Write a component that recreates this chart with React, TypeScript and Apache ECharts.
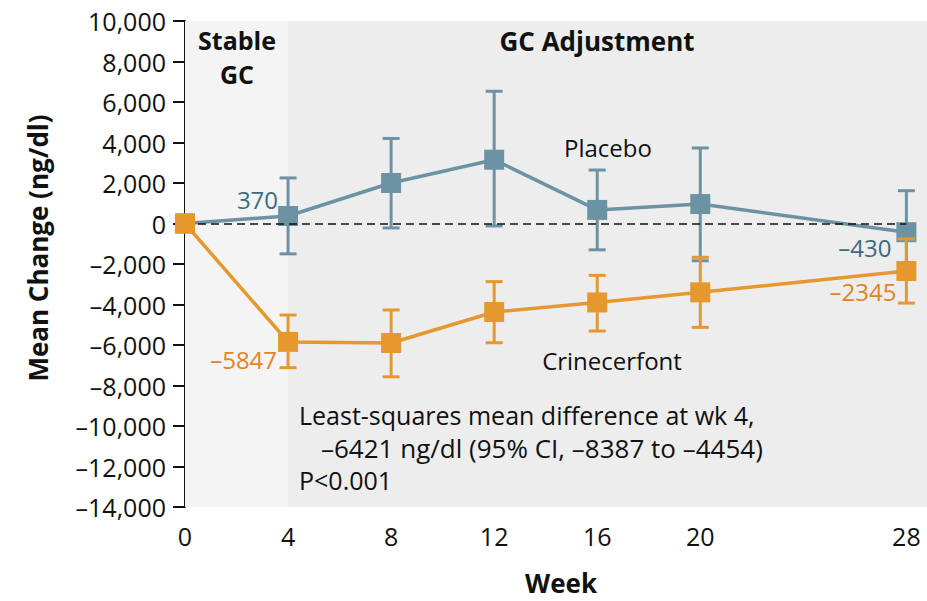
import React, { useEffect, useRef } from "react";
import * as echarts from "echarts";

const weeks = [0, 4, 8, 12, 16, 20, 28];
const tickWeeks = [0, 4, 8, 12, 16, 20, 28];
const placeboMean = [0, 370, 2000, 3150, 670, 960, -430];
const placeboLow = [null, -1500, -220, -120, -1300, -1840, -2480];
const placeboHigh = [null, 2250, 4200, 6530, 2640, 3730, 1620];
const crineMean = [0, -5847, -5900, -4370, -3900, -3400, -2345];
const crineLow = [null, -7120, -7570, -5890, -5310, -5130, -3930];
const crineHigh = [null, -4520, -4270, -2870, -2560, -1670, -760];
const phases = [
  { name: ["Stable", "GC"], from: 0, to: 4 },
  { name: ["GC Adjustment"], from: 4, to: 28.8 },
];

const BLUE = "#6c93a3";
const BLUE_TXT = "#3c6b80";
const ORANGE = "#e5982e";
const ORANGE_TXT = "#e2822a";
const FONT = "Open Sans";
const DASH = "\u2013";

const fmtNum = (v: number) => {
  const s = Math.abs(v).toLocaleString("en-US");
  return v < 0 ? DASH + s : s;
};
const fmtPlain = (v: number) => (v < 0 ? DASH + Math.abs(v) : String(v));

function errRender(color: string) {
  return (params: any, api: any) => {
    const x = api.value(0);
    const lo = api.value(1);
    const hi = api.value(2);
    const a = api.coord([x, lo]);
    const b = api.coord([x, hi]);
    const w = 8.5;
    const st = { stroke: color, lineWidth: 3 };
    return {
      type: "group",
      children: [
        { type: "line", shape: { x1: a[0], y1: a[1], x2: b[0], y2: b[1] }, style: st },
        { type: "line", shape: { x1: a[0] - w, y1: a[1], x2: a[0] + w, y2: a[1] }, style: st },
        { type: "line", shape: { x1: b[0] - w, y1: b[1], x2: b[0] + w, y2: b[1] }, style: st },
      ],
    };
  };
}

const errData = (lo: (number | null)[], hi: (number | null)[]) =>
  weeks
    .map((w, i) => (lo[i] == null ? null : [w, lo[i], hi[i]]))
    .filter((d) => d !== null);

const lineData = (vals: number[], labels: Record<number, any>, color: string) =>
  weeks.map((w, i) => {
    const item: any = { value: [w, vals[i]] };
    if (labels[i]) {
      item.label = {
        show: true,
        position: "left",
        color,
        fontFamily: FONT,
        fontSize: 24,
        formatter: fmtPlain(vals[i]),
        ...labels[i],
      };
    }
    return item;
  });

export default function App() {
  const ref = useRef<HTMLDivElement>(null);
  useEffect(() => {
    if (!ref.current) return;
    const chart = echarts.init(ref.current, null, { renderer: "svg" });
    const txt = (text: string, x: number, y: number, extra: any = {}) => ({
      type: "text",
      x,
      y,
      z: 50,
      style: {
        text,
        fontFamily: FONT,
        fontSize: 25,
        fill: "#111",
        align: "left",
        verticalAlign: "middle",
        ...extra,
      },
    });
    const bold = { fontWeight: "bold", fontSize: 26, align: "center" };
    chart.setOption({
      animation: false,
      grid: { left: 185, right: 0, top: 21, bottom: 94, containLabel: false },
      xAxis: {
        type: "value",
        min: 0,
        max: 28.8,
        splitLine: { show: false },
        axisLine: { lineStyle: { color: "#111", width: 2 } },
        axisTick: { show: true, length: 11, lineStyle: { color: "#111", width: 2 }, customValues: tickWeeks },
        axisLabel: { customValues: tickWeeks, color: "#111", fontFamily: FONT, fontSize: 25, margin: 16 },
      },
      yAxis: {
        type: "value",
        min: -14000,
        max: 10000,
        interval: 2000,
        splitLine: { show: false },
        axisLine: { show: true, lineStyle: { color: "#111", width: 2 } },
        axisTick: { show: true, length: 12, lineStyle: { color: "#111", width: 2 } },
        axisLabel: { color: "#111", fontFamily: FONT, fontSize: 25, margin: 19, formatter: (v: number) => fmtNum(v) },
      },
      graphic: [
        { ...txt("Mean Change (ng/dl)", 38, 248, bold), rotation: Math.PI / 2 },
        txt("Week", 561, 583, bold),
        txt(phases[0].name[0], 237, 40, { ...bold, fontSize: 25 }),
        txt(phases[0].name[1], 237, 74, { ...bold, fontSize: 25 }),
        txt(phases[1].name[0], 597, 41, bold),
        txt("Placebo", 608, 147, { align: "center", fontSize: 24 }),
        txt("Crinecerfont", 612, 360, { align: "center", fontSize: 24 }),
        txt("Least-squares mean difference at wk 4,", 299, 415),
        txt(DASH + "6421 ng/dl (95% CI, " + DASH + "8387 to " + DASH + "4454)", 321, 448, { fontSize: 26 }),
        txt("P<0.001", 299, 480),
      ],
      series: [
        {
          type: "custom",
          name: "Placebo CI",
          renderItem: errRender(BLUE),
          data: errData(placeboLow, placeboHigh),
          z: 2,
          markArea: {
            silent: true,
            data: [
              [{ xAxis: phases[0].from, itemStyle: { color: "#f4f4f4" } }, { xAxis: phases[0].to }],
              [{ xAxis: phases[1].from, itemStyle: { color: "#ededed" } }, { xAxis: phases[1].to }],
            ],
          },
          markLine: {
            silent: true,
            symbol: "none",
            label: { show: false },
            lineStyle: { color: "#111", type: [8, 5], width: 1.5 },
            data: [[{ coord: [0, 0] }, { coord: [28, 0] }]],
          },
        },
        {
          type: "line",
          name: "Placebo",
          data: lineData(
            placeboMean,
            {
              1: { distance: 0, offset: [0, -17] },
              6: { distance: 5, offset: [0, 15] },
            },
            BLUE_TXT
          ),
          symbol: "rect",
          symbolSize: 20,
          lineStyle: { color: BLUE, width: 3.5 },
          itemStyle: { color: BLUE },
          z: 3,
        },
        {
          type: "custom",
          name: "Crinecerfont CI",
          renderItem: errRender(ORANGE),
          data: errData(crineLow, crineHigh),
          z: 4,
        },
        {
          type: "line",
          name: "Crinecerfont",
          data: lineData(
            crineMean,
            {
              1: { distance: 1, offset: [0, 18] },
              6: { distance: 0, offset: [0, 21] },
            },
            ORANGE_TXT
          ),
          symbol: "rect",
          symbolSize: 20,
          lineStyle: { color: ORANGE, width: 3.5 },
          itemStyle: { color: ORANGE },
          z: 5,
        },
      ],
    });
    return () => chart.dispose();
  }, []);
  return <div ref={ref} style={{ position: "fixed", left: 0, top: 0, width: 927, height: 601, background: "#fff" }} />;
}
